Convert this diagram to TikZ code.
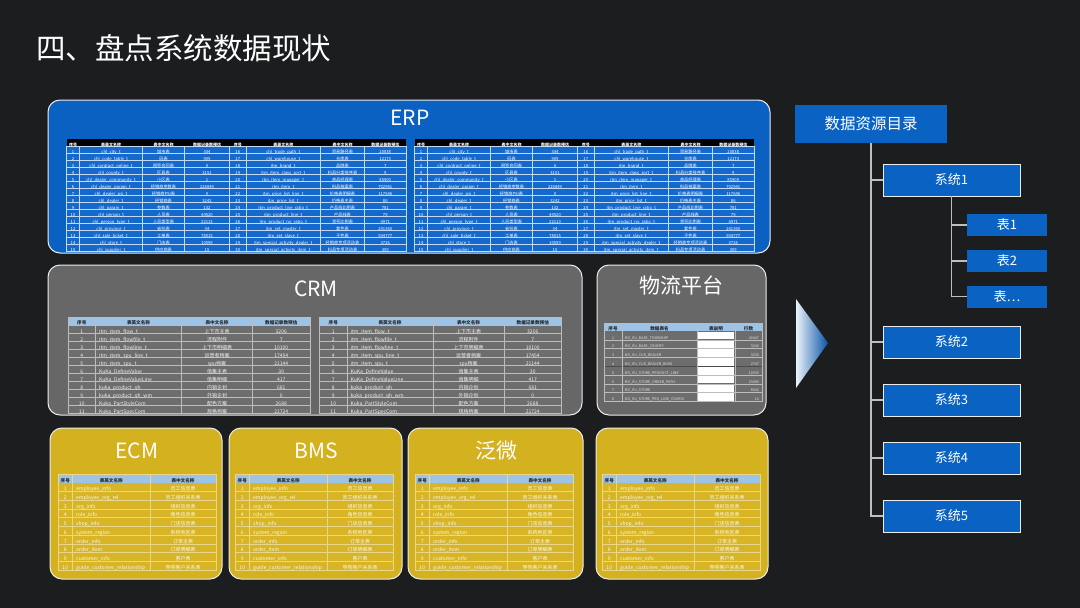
\documentclass[tikz,border=0pt]{standalone}
\usepackage{fontspec}
\setmainfont{Noto Sans CJK SC}
\usetikzlibrary{shapes.geometric}

\definecolor{bg}{HTML}{1B1D1F}
\definecolor{erpblue}{HTML}{0A61C2}
\definecolor{erpcell}{HTML}{1569CC}
\definecolor{crmgray}{HTML}{676767}
\definecolor{crmcell}{HTML}{6D6D6D}
\definecolor{hdrblue}{HTML}{9DC3E6}
\definecolor{ylw}{HTML}{D4B11E}
\definecolor{ylwcell}{HTML}{D7B526}
\definecolor{treeblue}{HTML}{0A63C3}
\definecolor{lineg}{HTML}{BFBFBF}

\tikzset{
  panel/.style={rounded corners=12pt, draw=white!85!gray, line width=1pt},
  ptitle/.style={inner sep=0pt, text=white, font=\fontsize{21}{25}\selectfont},
  cellt/.style={inner sep=0pt, text height=0.8em, text depth=0.06em},
  erpgrid/.style={draw=white!75!erpcell, line width=0.3pt},
  crmgrid/.style={draw=white!55!crmcell, line width=0.4pt},
  ygrid/.style={draw=white!45!ylwcell, line width=0.4pt},
  erptxt/.style={cellt, text=white, font=\fontsize{4.2}{5}\selectfont},
  erphdr/.style={cellt, text=white, font=\fontsize{4}{5}\selectfont\bfseries},
  crmtxt/.style={cellt, text=white!88!gray, font=\fontsize{5}{6}\selectfont},
  hdrtxt/.style={cellt, text=black!85, font=\fontsize{4.6}{6}\selectfont\bfseries},
  wltxt/.style={cellt, text=white!80!gray, font=\fontsize{3.6}{5}\selectfont},
  ytxt/.style={cellt, text=white!92!ylw, font=\fontsize{5}{6}\selectfont},
  rootbox/.style={fill=treeblue, minimum width=152pt, minimum height=38pt, inner sep=0pt, text=white, font=\fontsize{15.5}{18}\selectfont},
  sysbox/.style={fill=treeblue, draw=white!85!gray, line width=0.8pt, minimum width=137pt, minimum height=32pt, inner sep=0pt, text=white, font=\fontsize{13}{15}\selectfont},
  tabbox/.style={fill=treeblue, minimum width=80pt, minimum height=22pt, inner sep=0pt, text=white, font=\fontsize{13}{15}\selectfont},
  treeline/.style={draw=lineg, line width=1.2pt}
}

\newcommand\erpdata{1/chl\_city\_t/城市表/334/16/chl\_trade\_path\_t/贸易路径表/20838,
2/chl\_code\_table\_t/码表/909/17/chl\_warehouse\_t/仓库表/12173,
3/chl\_contract\_online\_t/网签合同表/0/18/itm\_brand\_t/品牌表/7,
4/chl\_county\_t/区县表/3151/19/itm\_item\_class\_sort\_t/料品分类排序表/9,
5/chl\_dealer\_community\_t/小区表/1/20/itm\_item\_manager\_t/商品经理表/85900,
6/chl\_dealer\_param\_t/经销商参数表/226849/21/itm\_item\_t/料品档案表/702941,
7/chl\_dealer\_psi\_t/经销商PSI表/0/22/itm\_price\_list\_line\_t/价格表明细表/117646,
8/chl\_dealer\_t/经销商表/3242/23/itm\_price\_list\_t/价格表主表/86,
9/chl\_param\_t/参数表/132/24/itm\_product\_line\_ratio\_t/产品线比例表/781,
10/chl\_person\_t/人员表/44520/25/itm\_product\_line\_t/产品线表/79,
11/chl\_person\_type\_t/人员类型表/22113/26/itm\_product\_no\_ratio\_t/货号比例表/4971,
12/chl\_province\_t/省份表/34/27/itm\_set\_master\_t/套件表/241360,
13/chl\_sale\_ticket\_t/工单表/78015/28/itm\_set\_slave\_t/子件表/594777,
14/chl\_store\_t/门店表/10599/29/itm\_special\_activity\_dealer\_t/经销商专项活动表/3726,
15/chl\_supplier\_t/供应商表/15/30/itm\_special\_activity\_item\_t/料品专项活动表/359}

\newcommand\crmdata{1/itm\_item\_flow\_t/上下市主表/3206,
2/itm\_item\_flowfile\_t/流程附件/7,
3/itm\_item\_flowline\_t/上下市明细表/10100,
4/itm\_item\_spu\_line\_t/运营者档案/17454,
5/itm\_item\_spu\_t/spu档案/21144,
6/KuKa\_DefineValue/值集主表/30,
7/KuKa\_DefineValueLine/值集明细/417,
8/kuka\_product\_qh/内销企划/681,
9/kuka\_product\_qh\_wm/外销企划/0,
10/Kuka\_PartStyleCom/配色方案/2688,
11/Kuka\_PartSpecCom/规格档案/21724}

\newcommand\wldata{1/BO\_EU\_BASE\_TOWNSHIP/40447,
2/BO\_EU\_BASE\_COUNTY/3240,
3/BO\_EU\_CUS\_DEALER/3230,
4/BO\_EU\_CUS\_DEALER\_BOSS/2747,
5/BO\_EU\_STORE\_PRODUCT\_LINE/10333,
6/BO\_EU\_STORE\_ORDER\_PATH/23089,
7/BO\_EU\_STORE/8042,
8/BO\_EU\_STORE\_PRO\_LINE\_CONFIG/14}

\newcommand\ydata{1/employee\_info/员工信息表,
2/employee\_org\_rel/员工组织关系表,
3/org\_info/组织信息表,
4/role\_info/角色信息表,
5/shop\_info/门店信息表,
6/system\_region/系统地区表,
7/order\_info/订单主表,
8/order\_item/订单明细表,
9/customer\_info/客户表,
10/guide\_customer\_relationship/导购客户关系表}

\newcommand\ERPtable[2]{%
\begin{scope}[shift={(#1,0)}]
\fill[black] (0,139) rectangle (339.5,146);
\fill[erpcell] (0,146) rectangle (339.5,251);
\foreach \i in {1,...,14} \draw[erpgrid] (0,{146+7*\i}) -- (339.5,{146+7*\i});
\foreach \xx in {13,76,118,163,179.5,254,298} \draw[erpgrid] (\xx,146) -- (\xx,251);
\draw[erpgrid] (0,146) rectangle (339.5,251);
\foreach \cx/\ct [count=\k] in {6.5/序号,44.5/表英文名称,97/表中文名称,140.5/数据记录数预估,171.25/序号,216.75/表英文名称,276/表中文名称,318.75/数据记录数预估}
  \node[erphdr] (#2-h\k) at (\cx,142.5) {\ct};
\foreach \ra/\rb/\rc/\rd/\re/\rf/\rg/\rh in \erpdata {
  \node[erptxt] (#2-\ra-1) at (6.5,{146+7*(\ra-0.5)}) {\ra};
  \node[erptxt] (#2-\ra-2) at (44.5,{146+7*(\ra-0.5)}) {\rb};
  \node[erptxt] (#2-\ra-3) at (97,{146+7*(\ra-0.5)}) {\rc};
  \node[erptxt] (#2-\ra-4) at (140.5,{146+7*(\ra-0.5)}) {\rd};
  \node[erptxt] (#2-\ra-5) at (171.25,{146+7*(\ra-0.5)}) {\re};
  \node[erptxt] (#2-\ra-6) at (216.75,{146+7*(\ra-0.5)}) {\rf};
  \node[erptxt] (#2-\ra-7) at (276,{146+7*(\ra-0.5)}) {\rg};
  \node[erptxt] (#2-\ra-8) at (318.75,{146+7*(\ra-0.5)}) {\rh};
}
\end{scope}}

\newcommand\CRMtable[2]{%
\begin{scope}[shift={(#1,0)}]
\fill[hdrblue] (0,317) rectangle (242,325.5);
\fill[crmcell] (0,325.5) rectangle (242,413.5);
\foreach \i in {1,...,10} \draw[crmgrid] (0,{325.5+8*\i}) -- (242,{325.5+8*\i});
\foreach \xx in {27.5,113.5,184.5} \draw[crmgrid] (\xx,317) -- (\xx,413.5);
\draw[crmgrid] (0,317) rectangle (242,413.5);
\foreach \cx/\ct [count=\k] in {13.75/序号,70.5/表英文名称,149/表中文名称,213.25/数据记录数预估}
  \node[hdrtxt] (#2-h\k) at (\cx,321.25) {\ct};
\foreach \ra/\rb/\rc/\rd in \crmdata {
  \node[crmtxt] (#2-\ra-1) at (13.75,{325.5+8*(\ra-0.5)}) {\ra};
  \node[crmtxt, anchor=west] (#2-\ra-2) at (31,{325.5+8*(\ra-0.5)}) {\rb};
  \node[crmtxt] (#2-\ra-3) at (149,{325.5+8*(\ra-0.5)}) {\rc};
  \node[crmtxt] (#2-\ra-4) at (213.25,{325.5+8*(\ra-0.5)}) {\rd};
}
\end{scope}}

\newcommand\Ytable[2]{%
\begin{scope}[shift={(#1,0)}]
\fill[hdrblue] (0,474.5) rectangle (158,482.5);
\fill[ylwcell] (0,482.5) rectangle (158,570);
\foreach \i in {1,...,9} \draw[ygrid] (0,{482.5+8.75*\i}) -- (158,{482.5+8.75*\i});
\foreach \xx in {14.5,92} \draw[ygrid] (\xx,474.5) -- (\xx,570);
\draw[ygrid] (0,474.5) rectangle (158,570);
\foreach \cx/\ct [count=\k] in {7.25/序号,53.25/表英文名称,125/表中文名称}
  \node[hdrtxt] (#2-h\k) at (\cx,478.5) {\ct};
\foreach \ra/\rb/\rc in \ydata {
  \node[ytxt] (#2-\ra-1) at (7.25,{482.5+8.75*(\ra-0.5)}) {\ra};
  \node[ytxt, anchor=west] (#2-\ra-2) at (18,{482.5+8.75*(\ra-0.5)}) {\rb};
  \node[ytxt] (#2-\ra-3) at (125,{482.5+8.75*(\ra-0.5)}) {\rc};
}
\end{scope}}

\begin{document}
\begin{tikzpicture}[x=1pt, y=-1pt]
\useasboundingbox (0,0) rectangle (1080,608);
\fill[bg] (0,0) rectangle (1080,608);

% title
\node[inner sep=0pt, anchor=west, text=white, font=\fontsize{29.5}{34}\selectfont] (title) at (36,48) {四、盘点系统数据现状};

% ERP panel
\draw[panel, fill=erpblue] (48,100) rectangle (770,253);
\node[ptitle] (erp) at (410,118) {ERP};
\ERPtable{66.5}{erpL}
\ERPtable{414.5}{erpR}

% CRM panel
\draw[panel, fill=crmgray] (48,265) rectangle (582,415);
\node[ptitle] (crm) at (316,289) {CRM};
\CRMtable{68}{crmL}
\CRMtable{319.5}{crmR}

% logistics panel
\draw[panel, fill=crmgray] (597,265) rectangle (766,415);
\node[ptitle] (wl) at (681,285) {物流平台};
\begin{scope}[shift={(604,0)}]
\fill[hdrblue] (0,323) rectangle (158,331);
\fill[crmcell] (0,331) rectangle (158,401.4);
\foreach \i in {1,...,8} \fill[white] (94,{331+8.8*(\i-1)+0.8}) rectangle (130,{331+8.8*\i-0.4});
\foreach \i in {1,...,7} \draw[crmgrid] (0,{331+8.8*\i}) -- (158,{331+8.8*\i});
\draw[black!70, line width=0.6pt] (0,366.2) -- (158,366.2);
\foreach \xx in {18,93,131} \draw[crmgrid] (\xx,323) -- (\xx,401.4);
\draw[crmgrid] (0,323) rectangle (158,401.4);
\foreach \cx/\ct [count=\k] in {9/序号,55.5/数据表名,112/表说明,144.5/行数}
  \node[hdrtxt] (wl-h\k) at (\cx,327) {\ct};
\foreach \ra/\rb/\rc in \wldata {
  \node[wltxt] (wl-\ra-1) at (9,{331+8.8*(\ra-0.5)}) {\ra};
  \node[wltxt, anchor=west] (wl-\ra-2) at (21,{331+8.8*(\ra-0.5)}) {\rb};
  \node[wltxt, anchor=east] (wl-\ra-4) at (155,{331+8.8*(\ra-0.5)}) {\rc};
}
\end{scope}

% yellow panels
\draw[panel, fill=ylw] (50,428) rectangle (222,579);
\node[ptitle] (ecm) at (137,451) {ECM};
\Ytable{58}{ecm}
\draw[panel, fill=ylw] (229,428) rectangle (402,579);
\node[ptitle] (bms) at (316,451) {BMS};
\Ytable{235}{bms}
\draw[panel, fill=ylw] (408,428) rectangle (583,579);
\node[ptitle] (fw) at (496,451) {泛微};
\Ytable{415}{fw}
\draw[panel, fill=ylw] (596,428) rectangle (768,579);
\Ytable{602}{y4}

% arrow triangle
\shade[left color=white!92!treeblue, right color=treeblue!85!black] (796,299) -- (828,343) -- (796,388) -- cycle;

% tree
\node[rootbox] (root) at (871,124) {数据资源目录};
\node[sysbox] (s1) at (951.5,180) {系统1};
\node[tabbox] (t1) at (1007,225) {表1};
\node[tabbox] (t2) at (1007,261) {表2};
\node[tabbox] (t3) at (1007,296.5) {表…};
\node[sysbox] (s2) at (951.5,342) {系统2};
\node[sysbox] (s3) at (951.5,400) {系统3};
\node[sysbox] (s4) at (951.5,458) {系统4};
\node[sysbox] (s5) at (951.5,516) {系统5};
\foreach \s in {s1,s2,s3,s4,s5} \draw[treeline] (root.south) |- (\s.west);
\foreach \t in {t1,t2,t3} \draw[treeline] (s1.south) |- (\t.west);
\end{tikzpicture}
\end{document}
